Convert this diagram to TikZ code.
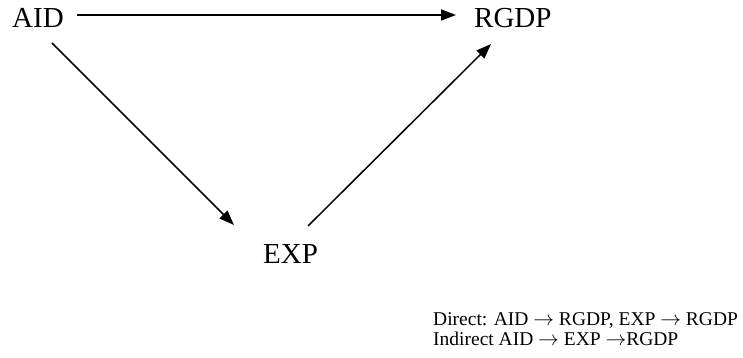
\documentclass[tikz,border=0pt]{standalone}
\usepackage{fontspec}
\setmainfont{Liberation Serif}
\usetikzlibrary{arrows.meta}
\begin{document}
\begin{tikzpicture}[x=1pt,y=-1pt,
  lbl/.style={anchor=base west,inner sep=0pt,font=\fontsize{29}{34}\selectfont},
  note/.style={anchor=base west,inner sep=0pt,align=left,font=\fontsize{19.5}{19.5}\selectfont},
  conn/.style={line width=1.5pt,-{Triangle[length=15pt,width=11pt]}}]
\useasboundingbox (0,0) rectangle (743,358);
\node[lbl] (aid) at (12,28) {AID};
\node[lbl] (rgdp) at (474,28) {RGDP};
\node[lbl] (exp) at (263,263) {EXP};
\coordinate (h1) at (77,15);
\coordinate (h2) at (456,15);
\coordinate (d1) at (52,43);
\coordinate (d2) at (234,225);
\coordinate (u1) at (308,226);
\coordinate (u2) at (491,44);
\draw[conn] (h1) -- (h2);
\draw[conn] (d1) -- (d2);
\draw[conn] (u1) -- (u2);
\node[note] (notes) at (433,345) {Direct: AID $\rightarrow$ RGDP, EXP $\rightarrow$ RGDP\\Indirect AID $\rightarrow$ EXP $\rightarrow$RGDP};
\end{tikzpicture}
\end{document}
